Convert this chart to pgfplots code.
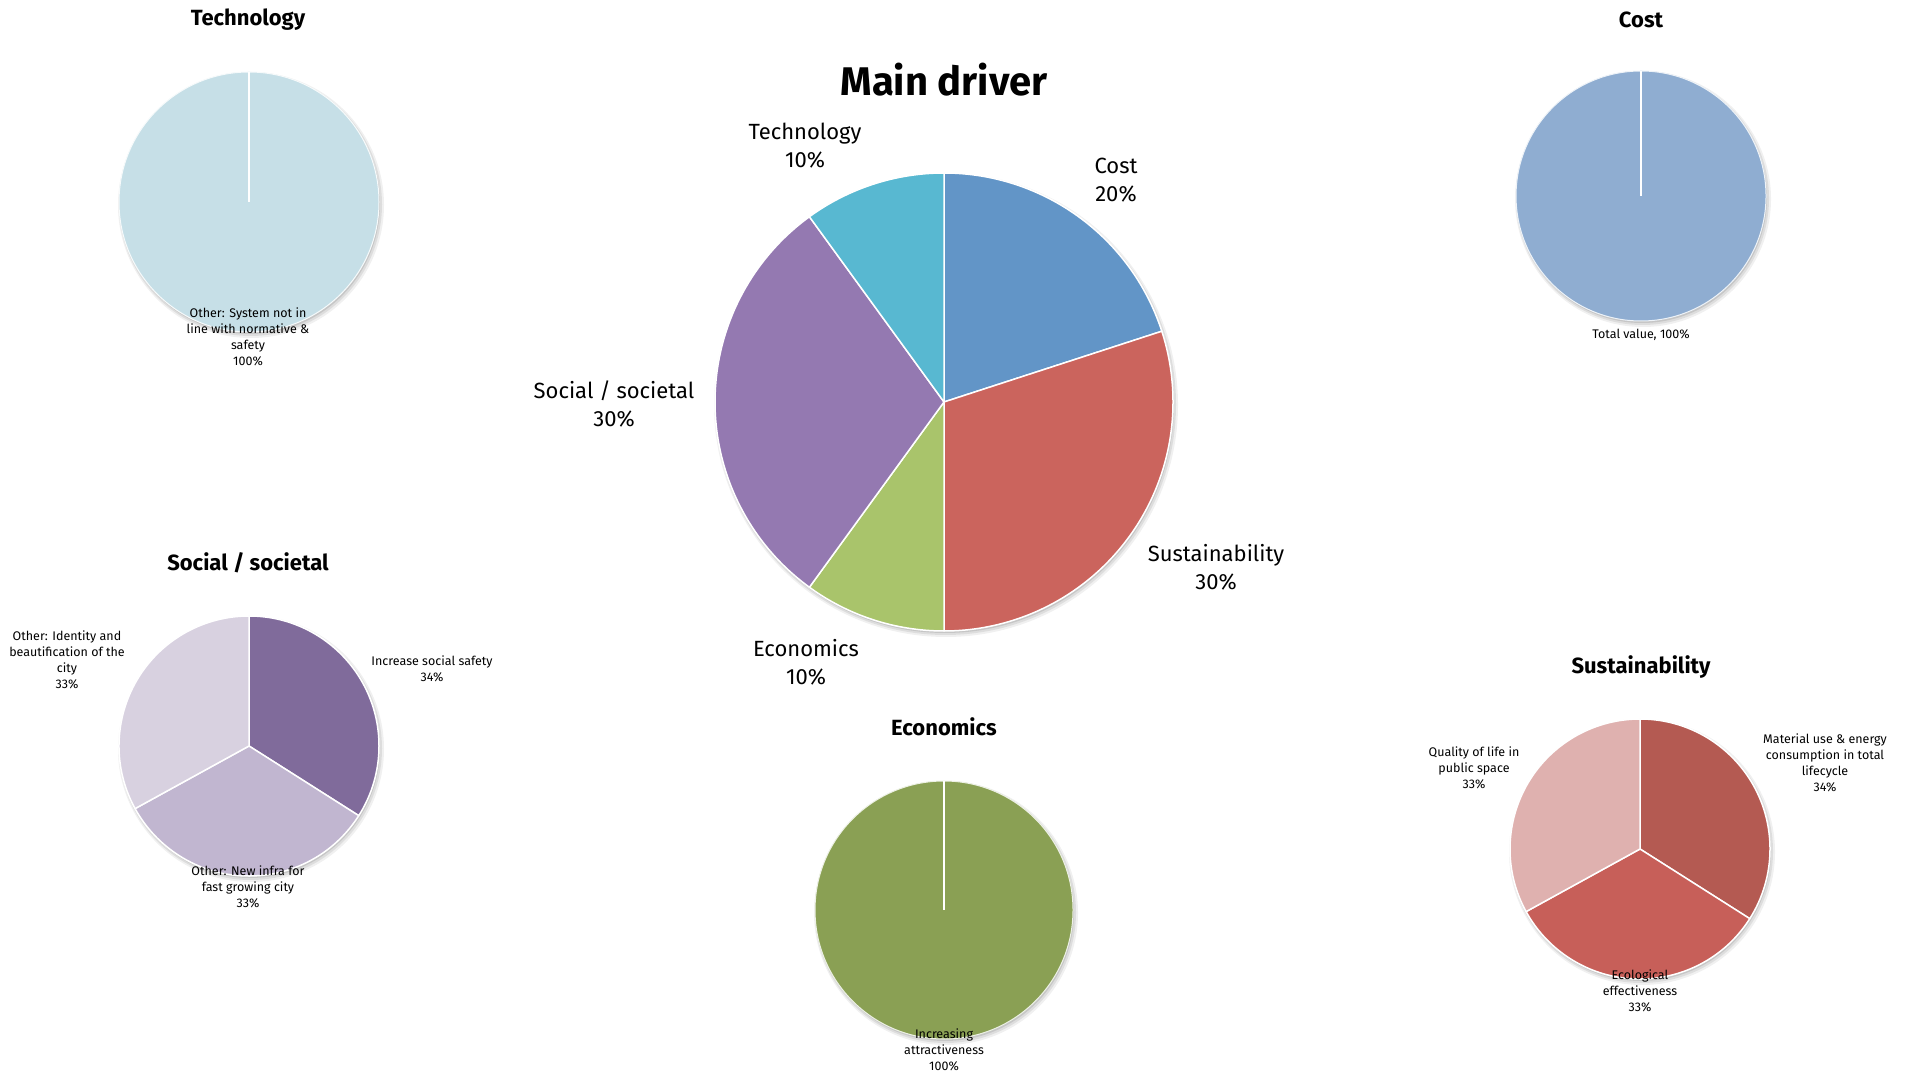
\documentclass[border=0pt]{standalone}
\usepackage{pgfplots}
\pgfplotsset{compat=1.18}
\usepackage{fontspec}
\setmainfont{Fira Sans}

\definecolor{cCost}{HTML}{6295C7}
\definecolor{cSust}{HTML}{CB645D}
\definecolor{cEcon}{HTML}{A9C46B}
\definecolor{cSoc}{HTML}{9479B1}
\definecolor{cTech}{HTML}{58B8D1}
\definecolor{sTech}{HTML}{C6DFE7}
\definecolor{sCost}{HTML}{8FADD1}
\definecolor{socDark}{HTML}{806B9B}
\definecolor{socMid}{HTML}{C1B6D0}
\definecolor{socLight}{HTML}{D8D1E0}
\definecolor{sEcon}{HTML}{8AA054}
\definecolor{susDark}{HTML}{B45A52}
\definecolor{susMid}{HTML}{C75F59}
\definecolor{susLight}{HTML}{DFB1AF}

% #1 cx, #2 cy, #3 radius, #4 cumulative percent before slice, #5 percent, #6 colour
\newcommand{\pieslice}[6]{%
  \fill[#6, draw=white, line width=1.5pt, line join=round]
    (axis cs:#1,#2) -- ++({90-3.6*#4}:#3pt)
    arc[start angle={90-3.6*#4}, end angle={90-3.6*(#4+#5)}, radius=#3pt] -- cycle;}
\newcommand{\pieshadow}[3]{%
  \fill[black, opacity=0.06] (axis cs:#1+2,#2-3) circle[radius=#3pt+3pt];
  \fill[black, opacity=0.08] (axis cs:#1+1.5,#2-2.5) circle[radius=#3pt+1.5pt];
  \fill[black, opacity=0.10] (axis cs:#1+1,#2-2) circle[radius=#3pt];}
\newcommand{\fullpie}[4]{%
  \fill[#4, draw=white!85!#4, line width=1pt] (axis cs:#1,#2) circle[radius=#3pt];
  \draw[white, line width=1.2pt] (axis cs:#1,#2) -- ++(90:#3pt);}

\begin{document}
\begin{tikzpicture}
\begin{axis}[width=1910pt, height=1076pt, scale only axis,
  xmin=0, xmax=1910, ymin=0, ymax=1076, hide axis, clip=false]

\path[draw=none] (axis cs:0,0) rectangle (axis cs:1910,1076);

% ---- Main pie ----
\pieshadow{944}{674}{229}
\pieslice{944}{674}{229}{0}{20}{cCost}
\pieslice{944}{674}{229}{20}{30}{cSust}
\pieslice{944}{674}{229}{50}{10}{cEcon}
\pieslice{944}{674}{229}{60}{30}{cSoc}
\pieslice{944}{674}{229}{90}{10}{cTech}

% ---- Technology ----
\pieshadow{249}{874}{130}
\fullpie{249}{874}{130}{sTech}
% ---- Cost ----
\pieshadow{1641}{880}{125}
\fullpie{1641}{880}{125}{sCost}
% ---- Social ----
\pieshadow{249}{330}{130}
\pieslice{249}{330}{130}{0}{34}{socDark}
\pieslice{249}{330}{130}{34}{33}{socMid}
\pieslice{249}{330}{130}{67}{33}{socLight}
% ---- Economics ----
\pieshadow{944}{166}{129}
\fullpie{944}{166}{129}{sEcon}
% ---- Sustainability ----
\pieshadow{1640}{227}{130}
\pieslice{1640}{227}{130}{0}{34}{susDark}
\pieslice{1640}{227}{130}{34}{33}{susMid}
\pieslice{1640}{227}{130}{67}{33}{susLight}

% ---- Titles ----
\node[font=\fontsize{40}{48}\selectfont\bfseries] at (axis cs:944,996) {Main driver};
\tikzset{stitle/.style={font=\fontsize{22}{26}\selectfont\bfseries}}
\node[stitle] at (axis cs:248,1056) {Technology};
\node[stitle] at (axis cs:1641,1056) {Cost};
\node[stitle] at (axis cs:248,513) {Social / societal};
\node[stitle] at (axis cs:944,349) {Economics};
\node[stitle] at (axis cs:1641,409) {Sustainability};

% ---- Main labels ----
\tikzset{mlab/.style={align=center, font=\fontsize{22}{28}\selectfont}}
\node[mlab] at (axis cs:805,930) {Technology\\10\%};
\node[mlab] at (axis cs:1116,896) {Cost\\20\%};
\node[mlab] at (axis cs:614,672) {Social / societal\\30\%};
\node[mlab] at (axis cs:1216,509) {Sustainability\\30\%};
\node[mlab] at (axis cs:806,414) {Economics\\10\%};

% ---- Small labels ----
\tikzset{slab/.style={align=center, inner sep=0pt, font=\fontsize{12.5}{16}\selectfont}}
\node[slab] at (axis cs:248,739) {Other: System not in\\line with normative \&\\safety\\100\%};
\node[slab] at (axis cs:1641,741) {Total value, 100\%};
\node[slab] at (axis cs:432,407) {Increase social safety\\34\%};
\node[slab] at (axis cs:248,189) {Other: New infra for\\fast growing city\\33\%};
\node[slab] at (axis cs:67,416) {Other: Identity and\\beautification of the\\city\\33\%};
\node[slab] at (axis cs:944,26) {Increasing\\attractiveness\\100\%};
\node[slab] at (axis cs:1474,308) {Quality of life in\\public space\\33\%};
\node[slab] at (axis cs:1825,313) {Material use \& energy\\consumption in total\\lifecycle\\34\%};
\node[slab] at (axis cs:1640,85) {Ecological\\effectiveness\\33\%};

\end{axis}
\end{tikzpicture}
\end{document}
